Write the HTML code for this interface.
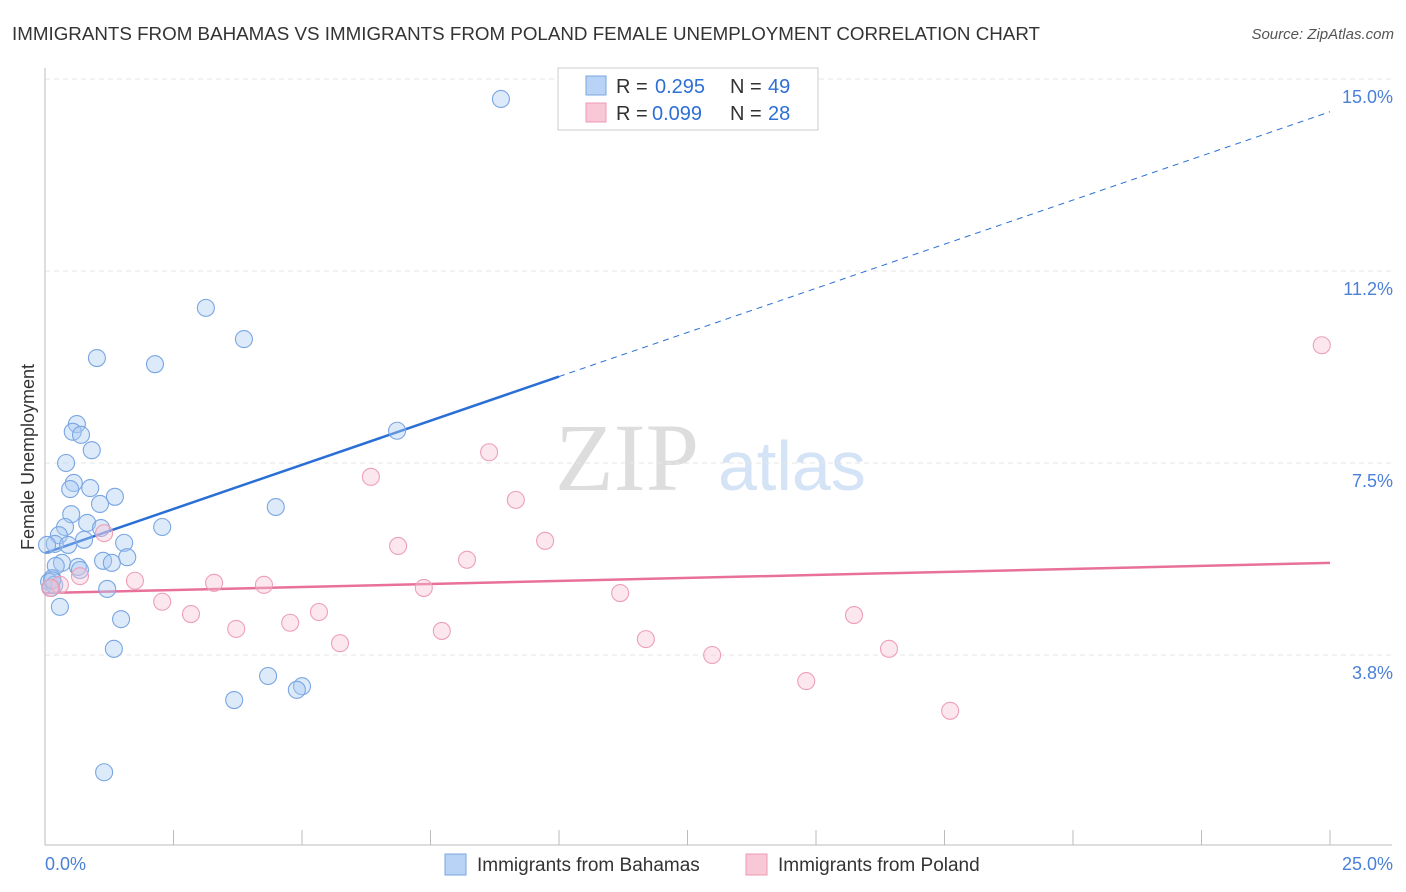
<!DOCTYPE html>
<html><head><meta charset="utf-8"><style>
body{margin:0;background:#fff;font-family:"Liberation Sans",sans-serif}
svg{display:block}
</style></head><body>
<svg id="chart" width="1406" height="892">
<text x="12" y="40" font-size="18" fill="#333" textLength="1028" lengthAdjust="spacingAndGlyphs">IMMIGRANTS FROM BAHAMAS VS IMMIGRANTS FROM POLAND FEMALE UNEMPLOYMENT CORRELATION CHART</text>
<text x="1394" y="39" font-size="15" fill="#555" font-style="italic" text-anchor="end">Source: ZipAtlas.com</text>
<text x="34" y="457" font-size="18" fill="#333" text-anchor="middle" transform="rotate(-90 34 457)">Female Unemployment</text>
<text x="555" y="490" font-size="96" fill="#ddd" font-family="Liberation Serif,serif">ZIP</text>
<text x="718" y="490" font-size="70" fill="#d4e3f5">atlas</text>
<g id="grid"></g><g id="axes"></g><g id="lines"></g><g id="pts"></g>
<g>
<rect x="558" y="68" width="260" height="62" fill="#fff" stroke="#ccc"/>
<rect x="586" y="76" width="20" height="19" fill="#b8d3f5" stroke="#7aa7e0"/>
<rect x="586" y="103" width="20" height="19" fill="#f9c8d6" stroke="#ec9ab3"/>
<g font-size="20" fill="#333">
<text x="616" y="93">R =</text><text x="655" y="93" fill="#2e6fd6">0.295</text><text x="730" y="93">N =</text><text x="768" y="93" fill="#2e6fd6">49</text></g>
<g font-size="20" fill="#333">
<text x="616" y="120">R =</text><text x="652" y="120" fill="#2e6fd6">0.099</text><text x="730" y="120">N =</text><text x="768" y="120" fill="#2e6fd6">28</text></g>
</g>
<g>
<rect x="445" y="854" width="21" height="21" fill="#b8d3f5" stroke="#7aa7e0"/>
<text x="477" y="871" font-size="19" fill="#333">Immigrants from Bahamas</text>
<rect x="746" y="854" width="21" height="21" fill="#f9c8d6" stroke="#ec9ab3"/>
<text x="778" y="871" font-size="19" fill="#333">Immigrants from Poland</text>
</g>
</svg>
<script>
const blueX=[8.87,3.13,3.87,1.01,2.14,0.62,0.54,0.70,0.91,6.85,0.41,0.56,0.49,0.88,1.36,1.07,4.49,0.51,0.39,0.82,1.09,2.28,0.27,0.76,1.54,0.19,0.45,1.60,0.33,1.13,1.30,0.64,0.68,0.21,0.14,0.08,0.18,1.21,0.12,0.29,1.48,1.34,4.34,5.00,4.90,3.68,1.15,0.04,0.14];
const blueY=[14.61,10.53,9.92,9.55,9.43,8.26,8.11,8.05,7.75,8.13,7.50,7.11,6.99,7.01,6.84,6.70,6.64,6.50,6.25,6.33,6.23,6.25,6.09,6.00,5.94,5.92,5.90,5.66,5.55,5.59,5.55,5.47,5.41,5.49,5.25,5.18,5.12,5.04,5.06,4.69,4.45,3.87,3.34,3.14,3.07,2.87,1.46,5.90,5.21];
const pinkX=[24.84,8.64,6.34,9.16,9.73,6.87,8.21,1.15,0.68,1.75,3.29,4.26,7.37,11.19,2.28,2.84,5.33,4.77,3.72,7.72,5.74,11.69,15.74,16.42,12.98,14.81,17.61,0.29,0.10];
const pinkY=[9.80,7.71,7.23,6.78,5.98,5.88,5.61,6.13,5.29,5.20,5.16,5.12,5.06,4.96,4.79,4.55,4.59,4.38,4.26,4.22,3.98,4.06,4.53,3.87,3.75,3.24,2.66,5.12,5.06];
const blueTrend=[5.74,14.36];
const pinkTrend=[4.96,5.55];
const yTicks=[3.75,7.5,11.25,15];
const yTickLabels=["3.8%","7.5%","11.2%","15.0%"];
const NS="http://www.w3.org/2000/svg";
const sx=v=>45+v/25*1285, sy=v=>847-v*51.2;
function mk(p,t,a){const e=document.createElementNS(NS,t);for(const k in a)e.setAttribute(k,a[k]);document.getElementById(p).appendChild(e);return e;}
yTicks.forEach((v,i)=>{
 const l=mk('grid','line',{x1:45,x2:1392,y1:sy(v),y2:sy(v),stroke:'#e6e6e6','stroke-dasharray':'5,4'});
 
 
 const t=mk('grid','text',{x:1393,y:sy(v)+24,'font-size':18,fill:'#4a80d8','text-anchor':'end'});
 t.textContent=yTickLabels[i];
 
 
});
const ax=mk('axes','line',{x1:45,x2:1392,y1:845,y2:845,stroke:'#bbb'});


const ay=mk('axes','line',{x1:45,x2:45,y1:68,y2:845,stroke:'#bbb'});


for(let i=0;i<=10;i++){
 const tk=mk('axes','line',{x1:sx(i*2.5),x2:sx(i*2.5),y1:830,y2:845,stroke:'#bbb'});
 
 
}
const xl0=mk('axes','text',{x:45,y:870,'font-size':18,fill:'#4a80d8'});xl0.textContent="0.0%";


const xl1=mk('axes','text',{x:1393,y:870,'font-size':18,fill:'#4a80d8','text-anchor':'end'});xl1.textContent="25.0%";


blueX.forEach((x,i)=>{
 const c=mk('pts','circle',{cx:sx(x),cy:sy(blueY[i]),r:8.5,fill:'rgba(170,202,242,0.4)',stroke:'#79a6e2','stroke-width':1.1});
 
 
});
pinkX.forEach((x,i)=>{
 const c=mk('pts','circle',{cx:sx(x),cy:sy(pinkY[i]),r:8.5,fill:'rgba(248,196,212,0.4)',stroke:'#eca0b8','stroke-width':1.1});
 
 
});
const bAt=x=>blueTrend[0]+(blueTrend[1]-blueTrend[0])*x/25;
const split=10;
const b1=mk('lines','line',{x1:sx(0),y1:sy(bAt(0)),x2:sx(split),y2:sy(bAt(split)),stroke:'#2a6fd6','stroke-width':2.5});


const b2=mk('lines','line',{x1:sx(split),y1:sy(bAt(split)),x2:sx(25),y2:sy(bAt(25)),stroke:'#2a6fd6','stroke-width':1,'stroke-dasharray':'6,5'});


const p1=mk('lines','line',{x1:sx(0),y1:sy(pinkTrend[0]),x2:sx(25),y2:sy(pinkTrend[1]),stroke:'#e8709a','stroke-width':2.5});


</script>
</body></html>
